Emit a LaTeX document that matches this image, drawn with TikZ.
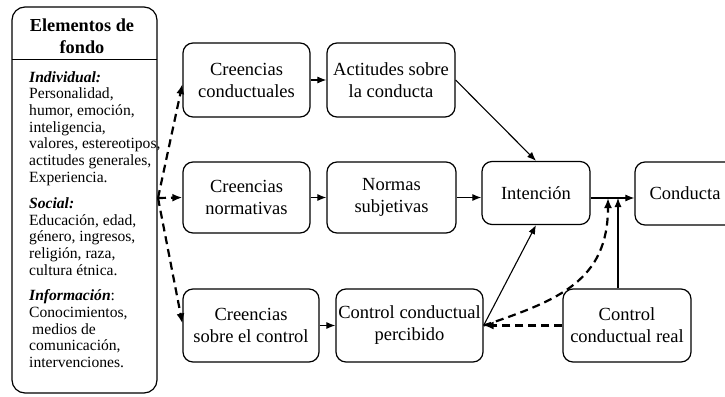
\documentclass[tikz,border=0pt]{standalone}
\usepackage{fontspec}
\setmainfont{Liberation Serif}
\usetikzlibrary{arrows.meta}

\begin{document}
\begin{tikzpicture}[x=1pt,y=-1pt,
  stage/.style={draw, line width=1.2pt, rounded corners=10pt, align=center,
    inner sep=0pt, font=\fontsize{18.5}{22}\selectfont},
  flow/.style={line width=1.1pt, -{Latex[length=9pt,width=7pt]}},
  dflow/.style={line width=2.2pt, dash pattern=on 8pt off 5pt,
    -{Latex[length=10pt,width=8pt]}},
  bgtext/.style={anchor=north west, align=left, inner sep=0pt,
    font=\fontsize{15.6}{16.7}\selectfont}
]
\useasboundingbox (0,0) rectangle (725,396);
\clip (0,0) rectangle (725,396);

% background factors panel
\node[draw, line width=1.2pt, rounded corners=13pt, minimum width=145pt,
  minimum height=386pt, inner sep=0pt] (bg) at (84.5,200) {};
\draw[line width=1pt] (12,60) -- (157,60);
\node[align=center, inner sep=0pt, font=\fontsize{18.3}{22}\selectfont\bfseries]
  (bghead) at (82,36) {Elementos de\\fondo};
\node[bgtext] (gind) at (29,71) {\textbf{\textit{Individual:}}\\
  Personalidad,\\ humor, emoción,\\ inteligencia,\\ valores, estereotipos,\\
  actitudes generales,\\ Experiencia.};
\node[bgtext] (gsoc) at (29,197.5) {\textbf{\textit{Social:}}\\
  Educación, edad,\\ género, ingresos,\\ religión, raza,\\ cultura étnica.};
\node[bgtext] (ginf) at (29,289.5) {\textbf{\textit{Información}}:\\
  Conocimientos,\\ \hspace*{3pt}medios de\\ comunicación,\\ intervenciones.};

% beliefs, attitudes, norms and control
\node[stage, minimum width=127pt, minimum height=74pt] (cc)  at (246.5,80) {Creencias\\conductuales};
\node[stage, minimum width=128pt, minimum height=74pt] (act) at (391,80) {Actitudes sobre\\la conducta};
\node[stage, minimum width=127pt, minimum height=71pt] (cn)  at (246.5,197.5) {Creencias\\normativas};
\node[stage, minimum width=129pt, minimum height=71pt] (ns)  at (391.5,197.5) {Normas\\subjetivas};
\node[stage, minimum width=108pt, minimum height=63pt] (int) at (536,193) {Intención};
\node[stage, minimum width=100pt, minimum height=63pt] (con) at (685,193.5) {Conducta};
\node[stage, minimum width=136pt, minimum height=73pt] (csc) at (251,325.5) {Creencias\\sobre el control};
\node[stage, minimum width=147pt, minimum height=73pt] (ccp) at (409.5,325.5) {Control conductual\\percibido};
\node[stage, minimum width=128pt, minimum height=73pt] (ccr) at (627,325.5) {Control\\conductual real};

% branch point of the background influences
\coordinate (br) at (158,198);
\coordinate (j1) at (608,198);
\coordinate (j2) at (618,198);

\draw[dflow] (br) -- ([yshift=-4pt]cc.west);
\draw[dflow] (br) -- (cn.west);
\draw[dflow] (br) -- ([yshift=2pt]csc.west);

\draw[flow] (cc.east) -- (act.west);
\draw[flow] (cn.east) -- (ns.west);
\draw[flow] (csc.east) -- (ccp.west);
\draw[flow] (ns.east) -- (ns.east -| int.west);
\draw[flow] (act.east) -- (int.north);
\draw[flow] (ccp.east) -- (int.south);
\draw[flow] (int.east |- j1) -- (con.west |- j1);
\draw[flow] (ccr.north -| j2) -- (j2);

\draw[dflow] (ccr.west) -- (ccp.east);
\draw[dflow] (ccp.east) .. controls (560,300) and (608,280) .. (j1);
\end{tikzpicture}
\end{document}
